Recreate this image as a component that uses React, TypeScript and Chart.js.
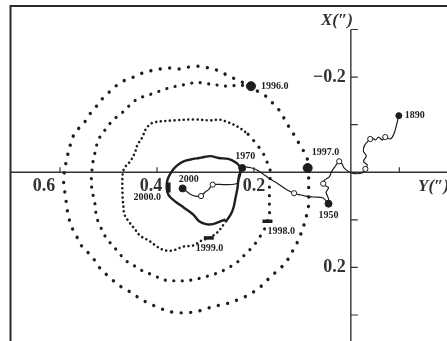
import { useEffect, useRef } from "react";
import { Chart, registerables } from "chart.js";
Chart.register(...registerables);

// Coordinates are [Y, X] in arcseconds (Y grows to the left, X grows downward)
const outerLoop: [number, number][] = [
  [0.206, -0.181], [0.232, -0.193], [0.253, -0.203], [0.273, -0.213], [0.283, -0.217], [0.303, -0.221],
  [0.319, -0.223], [0.335, -0.221], [0.356, -0.217], [0.374, -0.219], [0.394, -0.217], [0.414, -0.213],
  [0.434, -0.207], [0.455, -0.197], [0.471, -0.191], [0.485, -0.181], [0.501, -0.166], [0.515, -0.152],
  [0.527, -0.136], [0.541, -0.119], [0.552, -0.101], [0.568, -0.085], [0.578, -0.06], [0.586, -0.028],
  [0.592, 0.007], [0.592, 0.028], [0.588, 0.054], [0.586, 0.074], [0.582, 0.095], [0.576, 0.115],
  [0.566, 0.134], [0.556, 0.154], [0.541, 0.17], [0.527, 0.187], [0.515, 0.205], [0.497, 0.221],
  [0.481, 0.236], [0.461, 0.248], [0.44, 0.262], [0.42, 0.274], [0.4, 0.283], [0.38, 0.291],
  [0.36, 0.295], [0.339, 0.295], [0.319, 0.293], [0.299, 0.287], [0.279, 0.281], [0.259, 0.277],
  [0.228, 0.266], [0.208, 0.256], [0.188, 0.242], [0.172, 0.226], [0.152, 0.207], [0.135, 0.191],
  [0.125, 0.174], [0.115, 0.156], [0.107, 0.14], [0.101, 0.123], [0.095, 0.105], [0.091, 0.089],
  [0.087, 0.068], [0.087, 0.048], [0.087, 0.028], [0.087, 0.011], [0.089, -0.009], [0.091, -0.034],
  [0.101, -0.05], [0.111, -0.068], [0.121, -0.085], [0.131, -0.101], [0.141, -0.119], [0.152, -0.136],
  [0.166, -0.15], [0.178, -0.162], [0.192, -0.17], [0.206, -0.181],
];

const middleLoop: [number, number][] = [
  [0.206, -0.181], [0.232, -0.183], [0.253, -0.181], [0.273, -0.183], [0.303, -0.187], [0.319, -0.189],
  [0.339, -0.185], [0.36, -0.181], [0.386, -0.174], [0.406, -0.166], [0.426, -0.16], [0.446, -0.15],
  [0.471, -0.126], [0.491, -0.109], [0.507, -0.089], [0.521, -0.068], [0.527, -0.044], [0.531, -0.028],
  [0.535, 0.007], [0.535, 0.028], [0.531, 0.052], [0.527, 0.072], [0.525, 0.093], [0.517, 0.113],
  [0.507, 0.134], [0.495, 0.15], [0.481, 0.166], [0.465, 0.185], [0.446, 0.197], [0.43, 0.207],
  [0.406, 0.217], [0.386, 0.226], [0.366, 0.228], [0.345, 0.228], [0.325, 0.226], [0.305, 0.221],
  [0.285, 0.215], [0.273, 0.211], [0.253, 0.201], [0.232, 0.187], [0.216, 0.17], [0.202, 0.156],
  [0.188, 0.136], [0.178, 0.119], [0.172, 0.103], [0.168, 0.089], [0.168, 0.068], [0.168, 0.048],
  [0.168, 0.028], [0.166, -0.001], [0.172, -0.019], [0.178, -0.034], [0.186, -0.048], [0.196, -0.06],
  [0.206, -0.074], [0.218, -0.085],
];

const innerLoop: [number, number][] = [
  [0.218, -0.085], [0.232, -0.095], [0.253, -0.105], [0.273, -0.111], [0.285, -0.109], [0.325, -0.111],
  [0.366, -0.109], [0.406, -0.105], [0.416, -0.099], [0.424, -0.089], [0.43, -0.074], [0.44, -0.058],
  [0.446, -0.04], [0.455, -0.023], [0.467, -0.009], [0.471, 0.007], [0.471, 0.048], [0.469, 0.074],
  [0.467, 0.089], [0.457, 0.105], [0.446, 0.119], [0.434, 0.134], [0.416, 0.144], [0.4, 0.156],
  [0.384, 0.164], [0.366, 0.164], [0.345, 0.156], [0.325, 0.154], [0.309, 0.144], [0.293, 0.138],
  [0.275, 0.126], [0.259, 0.105],
];

const recentLoop: [number, number][] = [
  [0.259, 0.105], [0.248, 0.089], [0.242, 0.074], [0.238, 0.054], [0.234, 0.034], [0.232, 0.017],
  [0.228, 0.001], [0.23, -0.013], [0.238, -0.021], [0.253, -0.028], [0.273, -0.03], [0.289, -0.034],
  [0.303, -0.032], [0.313, -0.03], [0.325, -0.028], [0.345, -0.023], [0.36, -0.013], [0.37, -0.001],
  [0.378, 0.015], [0.38, 0.032], [0.376, 0.048], [0.364, 0.06], [0.345, 0.074], [0.325, 0.089],
  [0.313, 0.103], [0.299, 0.109], [0.285, 0.109], [0.273, 0.105], [0.259, 0.099],
];

const meanPolePath: [number, number][] = [
  [-0.099, -0.119], [-0.089, -0.081], [-0.081, -0.07], [-0.071, -0.074], [-0.065, -0.068], [-0.057, -0.074],
  [-0.051, -0.068], [-0.044, -0.072], [-0.036, -0.066], [-0.028, -0.056], [-0.026, -0.044], [-0.032, -0.034],
  [-0.026, -0.023], [-0.034, -0.015], [-0.028, -0.007], [-0.024, 0.001], [-0.008, 0.003], [0.004, -0.001],
  [0.014, -0.009], [0.02, -0.021], [0.026, -0.021], [0.032, -0.013], [0.04, -0.001], [0.044, 0.009],
  [0.055, 0.017], [0.057, 0.026], [0.046, 0.032], [0.051, 0.042], [0.046, 0.056], [0.046, 0.066],
  [0.057, 0.054], [0.077, 0.052], [0.093, 0.05], [0.117, 0.044], [0.133, 0.036], [0.152, 0.023],
  [0.168, 0.013], [0.182, 0.003], [0.198, -0.007], [0.214, -0.011], [0.224, -0.009], [0.232, 0.007],
  [0.234, 0.023], [0.259, 0.026], [0.285, 0.026], [0.293, 0.036], [0.301, 0.042], [0.309, 0.05],
  [0.321, 0.05], [0.331, 0.046], [0.339, 0.04], [0.347, 0.034],
];

const decadeMarks: [number, number][] = [
  [-0.071, -0.074], [-0.04, -0.07], [-0.03, -0.007], [0.024, -0.023], [0.057, 0.024], [0.117, 0.044],
  [0.285, 0.026], [0.309, 0.05],
];

const yearLabels = ["1890", "1950", "1970", "2000"];
const yearPoints: [number, number][] = [[-0.099, -0.119], [0.046, 0.066], [0.224, -0.009], [0.347, 0.034]];

const epochLabels = ["1996.0", "1997.0", "1998.0", "1999.0", "2000.0"];
const epochPoints: [number, number][] = [[0.206, -0.181], [0.089, -0.009], [0.172, 0.103], [0.293, 0.138], [0.376, 0.032]];

const xTickValues = [0.6, 0.4, 0.2, -0.1];
const xLabelValues = [0.6, 0.4, 0.2];
const xLabelTexts = ["0.6", "0.4", "0.2"];
const yTickValues = [-0.3, -0.2, -0.1, 0.1, 0.2, 0.3];
const yLabelValues = [-0.2, 0.2];
const yLabelTexts = ["\u22120.2", "0.2"];

// label offsets in pixels (style only)
const xLabelShift = [-16, -6, 0];
const yearLabelOffsets = [[6, 0], [-10, 12], [-7, -12], [-4, -9]];
const epochLabelOffsets = [[10, 0], [4, -16], [0, 10], [-13, 10], [-35, 10]];

const toXY = (arr: [number, number][]) => arr.map(([Y, X]) => ({ x: Y, y: X }));

export default function App() {
  const ref = useRef<HTMLCanvasElement | null>(null);
  useEffect(() => {
    if (!ref.current) return;
    const ink = "#1e1e1e";
    const axesPlugin = {
      id: "polarAxes",
      beforeDatasetsDraw(chart: any) {
        const ctx = chart.ctx;
        const xs = chart.scales.x;
        const ys = chart.scales.y;
        const x0 = xs.getPixelForValue(0);
        const y0 = ys.getPixelForValue(0);
        ctx.save();
        // frame
        ctx.strokeStyle = "#2a2a2a";
        ctx.lineWidth = 2;
        ctx.beginPath();
        ctx.moveTo(10.5, 341);
        ctx.lineTo(10.5, 6);
        ctx.lineTo(447, 6);
        ctx.stroke();
        // axes
        ctx.strokeStyle = "#333";
        ctx.lineWidth = 1.4;
        ctx.beginPath();
        ctx.moveTo(11, y0);
        ctx.lineTo(447, y0);
        ctx.moveTo(x0, ys.getPixelForValue(-0.3));
        ctx.lineTo(x0, 341);
        ctx.stroke();
        ctx.lineWidth = 1.2;
        ctx.beginPath();
        xTickValues.forEach((v) => {
          const px = xs.getPixelForValue(v);
          ctx.moveTo(px, y0);
          ctx.lineTo(px, y0 - 5);
        });
        yTickValues.forEach((v) => {
          const py = ys.getPixelForValue(v);
          ctx.moveTo(x0, py);
          ctx.lineTo(x0 + 7, py);
        });
        ctx.stroke();
        // tick labels
        ctx.fillStyle = "#333";
        ctx.font = "bold 18px 'Liberation Serif'";
        ctx.textBaseline = "middle";
        ctx.textAlign = "center";
        xLabelValues.forEach((v, i) => {
          ctx.fillText(xLabelTexts[i], xs.getPixelForValue(v) + xLabelShift[i], y0 + 14);
        });
        ctx.textAlign = "right";
        yLabelValues.forEach((v, i) => {
          ctx.fillText(yLabelTexts[i], x0 - 5, ys.getPixelForValue(v));
        });
        ctx.font = "italic bold 17px 'Liberation Serif'";
        ctx.textAlign = "center";
        ctx.fillText("X(\u2033)", 337, 21);
        ctx.textAlign = "left";
        ctx.fillText("Y(\u2033)", 418, y0 + 14);
        ctx.restore();
      },
      afterDatasetsDraw(chart: any) {
        const ctx = chart.ctx;
        const xs = chart.scales.x;
        const ys = chart.scales.y;
        ctx.save();
        ctx.fillStyle = ink;
        ctx.font = "bold 10px 'Liberation Serif'";
        ctx.textBaseline = "middle";
        ctx.textAlign = "left";
        yearLabels.forEach((t, i) => {
          const [Y, X] = yearPoints[i];
          ctx.fillText(t, xs.getPixelForValue(Y) + yearLabelOffsets[i][0], ys.getPixelForValue(X) + yearLabelOffsets[i][1]);
        });
        epochLabels.forEach((t, i) => {
          const [Y, X] = epochPoints[i];
          ctx.fillText(t, xs.getPixelForValue(Y) + epochLabelOffsets[i][0], ys.getPixelForValue(X) + epochLabelOffsets[i][1]);
        });
        ctx.restore();
      },
    };

    const dotted = (data: [number, number][], gap: number, width: number) => ({
      type: "line" as const,
      data: toXY(data),
      showLine: true,
      borderColor: ink,
      borderWidth: width,
      borderDash: [0.01, gap],
      borderCapStyle: "round" as const,
      pointRadius: 0,
      tension: 0.35,
      fill: false,
    });

    const chart = new Chart(ref.current, {
      type: "scatter",
      data: {
        datasets: [
          {
            data: toXY(epochPoints),
            pointStyle: ["circle", "circle", "line", "line", "line"],
            pointRotation: [0, 0, 0, 0, 90],
            pointRadius: [4.5, 4.5, 5, 5, 5],
            pointBorderWidth: [1, 1, 3.5, 3.5, 4],
            backgroundColor: ink,
            borderColor: ink,
            showLine: false,
          } as any,
          {
            data: toXY(yearPoints),
            pointRadius: [3, 3.5, 3.5, 3.5],
            backgroundColor: ink,
            borderColor: ink,
            showLine: false,
          },
          {
            data: toXY(decadeMarks),
            pointRadius: 2.6,
            backgroundColor: "#ffffff",
            borderColor: ink,
            borderWidth: 1,
            showLine: false,
          },
          {
            type: "line",
            data: toXY(meanPolePath),
            showLine: true,
            borderColor: ink,
            borderWidth: 1.2,
            pointRadius: 0,
            tension: 0.3,
          } as any,
          {
            type: "line",
            data: toXY(recentLoop),
            showLine: true,
            borderColor: ink,
            borderWidth: 2.4,
            pointRadius: 0,
            tension: 0.35,
          } as any,
          dotted(innerLoop, 4.6, 2.6) as any,
          dotted(middleLoop, 8.5, 3.2) as any,
          dotted(outerLoop, 9.5, 3.4) as any,
        ],
      },
      options: {
        animation: false,
        responsive: false,
        devicePixelRatio: 1,
        layout: { padding: { left: 12, top: 30, right: 0, bottom: 0 } },
        plugins: { legend: { display: false }, tooltip: { enabled: false } },
        scales: {
          x: { type: "linear", reverse: true, min: -0.1798, max: 0.699, display: false },
          y: { type: "linear", reverse: true, min: -0.299, max: 0.3357, display: false },
        },
      },
      plugins: [axesPlugin],
    });
    return () => chart.destroy();
  }, []);

  return (
    <div style={{ position: "fixed", left: 0, top: 0, width: 447, height: 341, background: "#fff" }}>
      <canvas ref={ref} width={447} height={341} style={{ width: 447, height: 341, display: "block" }} />
    </div>
  );
}
